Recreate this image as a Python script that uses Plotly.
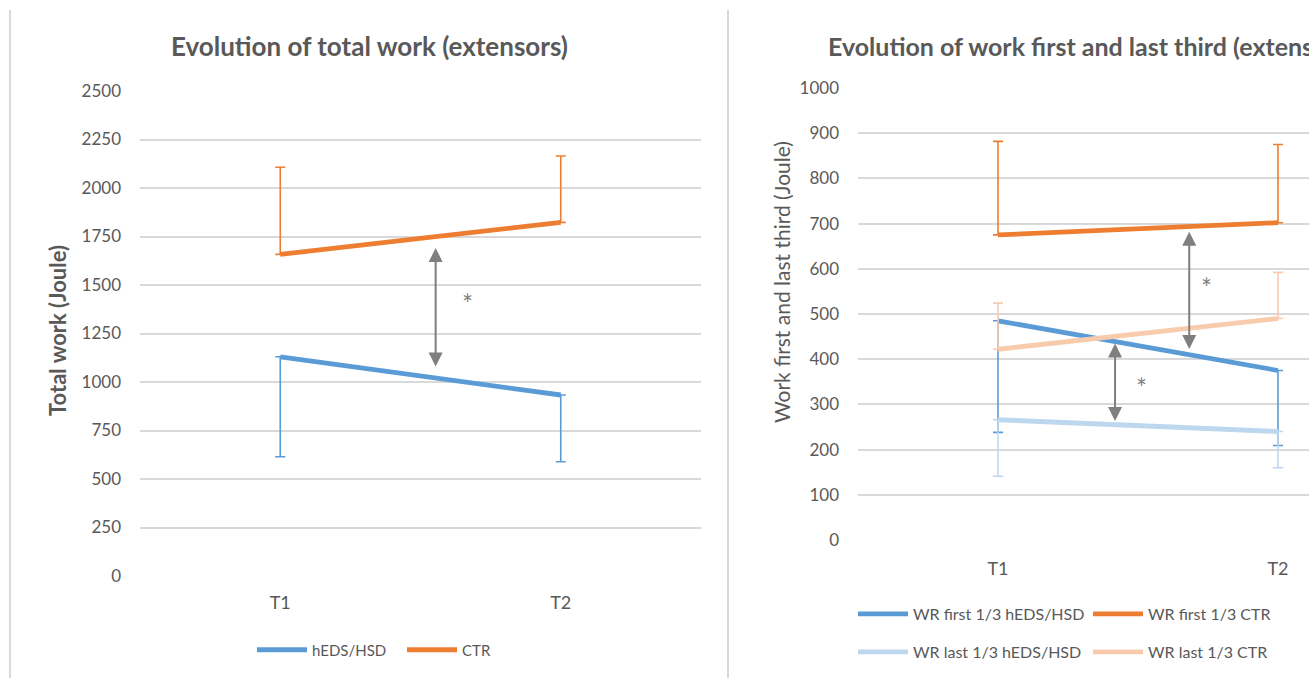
import plotly.graph_objects as go

# ---------------- data ----------------
categories = ["T1", "T2"]

# Left panel: total work (extensors)
total_heds = [1130, 933]
total_heds_sd = [515, 344]
total_ctr = [1658, 1823]
total_ctr_sd = [449, 342]

# Right panel: work first and last third (extensors)
first_heds = [485, 375]
first_heds_sd = [247, 166]
first_ctr = [675, 702]
first_ctr_sd = [207, 173]
last_heds = [266, 240]
last_heds_sd = [125, 80]
last_ctr = [422, 490]
last_ctr_sd = [102, 102]

left_ticks = [0, 250, 500, 750, 1000, 1250, 1500, 1750, 2000, 2250, 2500]
right_ticks = [0, 100, 200, 300, 400, 500, 600, 700, 800, 900, 1000]

# ---------------- style ----------------
BLUE = "#5b9bd5"
ORANGE = "#ed7d31"
LBLUE = "#bdd7ee"
LORANGE = "#f8cbad"
GRID = "#d9d9d9"
TXT = "#595959"
FONT = "Lato, 'Open Sans', sans-serif"

W, H = 1309, 678
xpos = [0, 1]


def px_x(p):
    return p / W


def px_y(p):
    return 1 - p / H


fig = go.Figure()


def add_series(name, y, sd, color, up, xaxis, yaxis, legend):
    zeros = [0] * len(sd)
    fig.add_trace(go.Scatter(
        x=xpos, y=y, name=name, mode="lines",
        line=dict(color=color, width=4.8),
        error_y=dict(type="data", symmetric=False,
                     array=sd if up else zeros,
                     arrayminus=zeros if up else sd,
                     color=color, thickness=1.6, width=5),
        xaxis=xaxis, yaxis=yaxis, legend=legend, hoverinfo="skip",
    ))


add_series("hEDS/HSD", total_heds, total_heds_sd, BLUE, False, "x", "y", "legend")
add_series("CTR", total_ctr, total_ctr_sd, ORANGE, True, "x", "y", "legend2")

add_series("WR first 1/3 hEDS/HSD", first_heds, first_heds_sd, BLUE, False, "x2", "y2", "legend3")
add_series("WR first 1/3 CTR", first_ctr, first_ctr_sd, ORANGE, True, "x2", "y2", "legend4")
add_series("WR last 1/3 hEDS/HSD", last_heds, last_heds_sd, LBLUE, False, "x2", "y2", "legend5")
add_series("WR last 1/3 CTR", last_ctr, last_ctr_sd, LORANGE, True, "x2", "y2", "legend6")

axis_common = dict(showline=False, zeroline=False, ticks="", fixedrange=True, automargin=False)


def leg(xp, yp, size):
    return dict(orientation="h", x=px_x(xp), y=px_y(yp), xanchor="left", yanchor="middle",
                font=dict(size=size, color=TXT), itemwidth=50, bgcolor="rgba(0,0,0,0)",
                borderwidth=0)


fig.update_layout(
    width=W, height=H,
    margin=dict(l=0, r=0, t=0, b=0, autoexpand=False),
    paper_bgcolor="white", plot_bgcolor="white",
    font=dict(family=FONT, color=TXT, size=16),
    xaxis=dict(domain=[px_x(140), px_x(701)], range=[-0.5, 1.5],
               tickvals=xpos, ticktext=categories, showgrid=False,
               tickfont=dict(size=18), ticklabelstandoff=14, **axis_common),
    yaxis=dict(domain=[px_y(576), px_y(91)], range=[0, 2500],
               tickvals=left_ticks, showgrid=True, gridcolor=GRID, gridwidth=2,
               tickfont=dict(size=17), ticklabelstandoff=18, **axis_common),
    xaxis2=dict(domain=[px_x(858), 1.0], range=[-0.5, (W - 998) / 280],
                tickvals=xpos, ticktext=categories, showgrid=False,
                tickfont=dict(size=18), ticklabelstandoff=16, anchor="y2", **axis_common),
    yaxis2=dict(domain=[px_y(540), px_y(88)], range=[0, 1000],
                tickvals=right_ticks, showgrid=True, gridcolor=GRID, gridwidth=2,
                tickfont=dict(size=17), ticklabelstandoff=18, anchor="x2", **axis_common),
    legend=leg(252, 650, 15),
    legend2=leg(402, 650, 15),
    legend3=leg(853, 614, 16),
    legend4=leg(1088, 614, 16),
    legend5=leg(853, 652, 16),
    legend6=leg(1088, 652, 16),
    showlegend=True,
)

# titles (the right-hand one runs past the right edge, as in the original)
fig.add_annotation(text="<b>Evolution of total work (extensors)</b>", x=px_x(369), y=px_y(46),
                   xref="paper", yref="paper", showarrow=False, xanchor="center", yanchor="middle",
                   font=dict(size=26, color=TXT))
fig.add_annotation(text="<b>Evolution of work first and last third (extensors)</b>", x=px_x(826), y=px_y(46),
                   xref="paper", yref="paper", showarrow=False, xanchor="left", yanchor="middle",
                   font=dict(size=25, color=TXT))

# axis titles
fig.add_annotation(text="<b>Total work (Joule)</b>", x=px_x(57), y=px_y(331), xref="paper", yref="paper",
                   showarrow=False, textangle=-90, xanchor="center", yanchor="middle",
                   font=dict(size=22, color=TXT))
fig.add_annotation(text="Work first and last third (Joule)", x=px_x(781), y=px_y(282), xref="paper", yref="paper",
                   showarrow=False, textangle=-90, xanchor="center", yanchor="middle",
                   font=dict(size=21, color=TXT))

# significance arrows (double headed) and stars
ARROW = "#7f7f7f"
arrows = [
    # (xref, yref, x, y_top, y_bottom)
    ("x", "y", 0.554, 1691, 1072),
    ("x2", "y2", 0.683, 682, 419),
    ("x2", "y2", 0.418, 435, 260),
]
for xr, yr, xa, ytop, ybot in arrows:
    fig.add_annotation(x=xa, y=ytop, ax=xa, ay=ybot, xref=xr, yref=yr, axref=xr, ayref=yr,
                       showarrow=True, arrowhead=2, arrowside="end+start", arrowsize=1.4,
                       arrowwidth=2, arrowcolor=ARROW, text="")

stars = [("x", "y", 0.667, 1402), ("x2", "y2", 0.745, 557), ("x2", "y2", 0.513, 336)]
for xr, yr, xs, ys in stars:
    fig.add_annotation(x=xs, y=ys, xref=xr, yref=yr, text="*", showarrow=False,
                       font=dict(size=26, color=ARROW))

# chart-area borders
for xb in (10, 728):
    fig.add_shape(type="line", xref="paper", yref="paper", x0=px_x(xb), x1=px_x(xb),
                  y0=px_y(10), y1=0, line=dict(color=GRID, width=2))

fig.write_html("out.html", config={"displayModeBar": False},
               post_script="document.body.style.margin='0';document.body.style.overflow='hidden';")
